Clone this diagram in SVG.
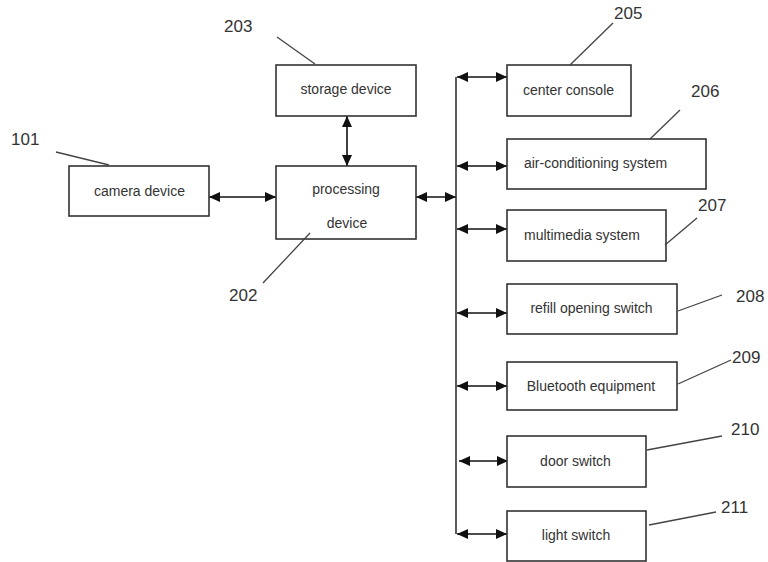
<svg xmlns="http://www.w3.org/2000/svg" width="768" height="562" viewBox="0 0 768 562">
<style>
.box{fill:#fff;stroke:#333;stroke-width:1.6}
.t{font-family:"Liberation Sans",Arial,sans-serif;font-size:14px;fill:#333;text-anchor:middle}
.n{font-family:"Liberation Sans",Arial,sans-serif;font-size:17px;fill:#333}
.ld{stroke:#444;stroke-width:1.3;fill:none}
.c{stroke:#111;stroke-width:1.6;fill:none;marker-start:url(#ah);marker-end:url(#ah)}
.bus{stroke:#333;stroke-width:1.6;fill:none}
</style>
<defs>
<marker id="ah" markerUnits="userSpaceOnUse" markerWidth="12" markerHeight="10" refX="11" refY="5" orient="auto-start-reverse">
<path d="M0,0 L11,5 L0,10 Z" fill="#111"/>
</marker>
</defs>
<rect width="768" height="562" fill="#fff"/>
<g id="connectors">
<line class="c" x1="209" y1="197" x2="276" y2="197"/>
<line class="c" x1="347" y1="116" x2="347" y2="166"/>
<line class="c" x1="416" y1="197" x2="456" y2="197"/>
<line class="bus" x1="456" y1="77" x2="456" y2="534"/>
<line class="c" x1="457" y1="77" x2="507" y2="77"/>
<line class="c" x1="457" y1="166" x2="507" y2="166"/>
<line class="c" x1="457" y1="229" x2="507" y2="229"/>
<line class="c" x1="457" y1="313" x2="507" y2="313"/>
<line class="c" x1="457" y1="386" x2="507" y2="386"/>
<line class="c" x1="459" y1="461" x2="508" y2="461"/>
<line class="c" x1="457" y1="534" x2="507" y2="534"/>
</g>
<g id="n101">
<rect class="box" x="69" y="166" width="140" height="50"/>
<text class="t" x="139.5" y="196">camera device</text>
<text class="n" x="11" y="145">101</text>
<line class="ld" x1="56" y1="152" x2="109" y2="165"/>
</g>
<g id="n203">
<rect class="box" x="276" y="65" width="140" height="51"/>
<text class="t" x="346" y="94">storage device</text>
<text class="n" x="224" y="32">203</text>
<line class="ld" x1="277" y1="37" x2="315" y2="64"/>
</g>
<g id="n202">
<rect class="box" x="276" y="166" width="140" height="73"/>
<text class="t" x="346" y="194">processing</text>
<text class="t" x="347" y="228">device</text>
<text class="n" x="229" y="301">202</text>
<line class="ld" x1="263" y1="283" x2="310" y2="233"/>
</g>
<g id="n205">
<rect class="box" x="507" y="65" width="124" height="51"/>
<text class="t" x="568.5" y="95">center console</text>
<text class="n" x="614" y="19">205</text>
<line class="ld" x1="613" y1="23" x2="570" y2="65"/>
</g>
<g id="n206">
<rect class="box" x="507" y="139" width="199" height="50"/>
<text class="t" x="595.5" y="168">air-conditioning system</text>
<text class="n" x="691" y="97">206</text>
<line class="ld" x1="680" y1="110" x2="650" y2="139"/>
</g>
<g id="n207">
<rect class="box" x="507" y="210" width="159" height="51"/>
<text class="t" x="582" y="240">multimedia system</text>
<text class="n" x="698" y="211">207</text>
<line class="ld" x1="697" y1="218" x2="665" y2="245"/>
</g>
<g id="n208">
<rect class="box" x="507" y="284" width="170" height="50"/>
<text class="t" x="591.5" y="313">refill opening switch</text>
<text class="n" x="736" y="302">208</text>
<line class="ld" x1="722" y1="295" x2="678" y2="311"/>
</g>
<g id="n209">
<rect class="box" x="507" y="362" width="170" height="48"/>
<text class="t" x="591" y="391">Bluetooth equipment</text>
<text class="n" x="732" y="363">209</text>
<line class="ld" x1="731" y1="360" x2="678" y2="384"/>
</g>
<g id="n210">
<rect class="box" x="507" y="436" width="139" height="51"/>
<text class="t" x="575.5" y="466">door switch</text>
<text class="n" x="731" y="435">210</text>
<line class="ld" x1="722" y1="436" x2="647" y2="450"/>
</g>
<g id="n211">
<rect class="box" x="507" y="511" width="139" height="50"/>
<text class="t" x="576" y="540">light switch</text>
<text class="n" x="721" y="513">211</text>
<line class="ld" x1="716" y1="512" x2="649" y2="525"/>
</g>
</svg>
